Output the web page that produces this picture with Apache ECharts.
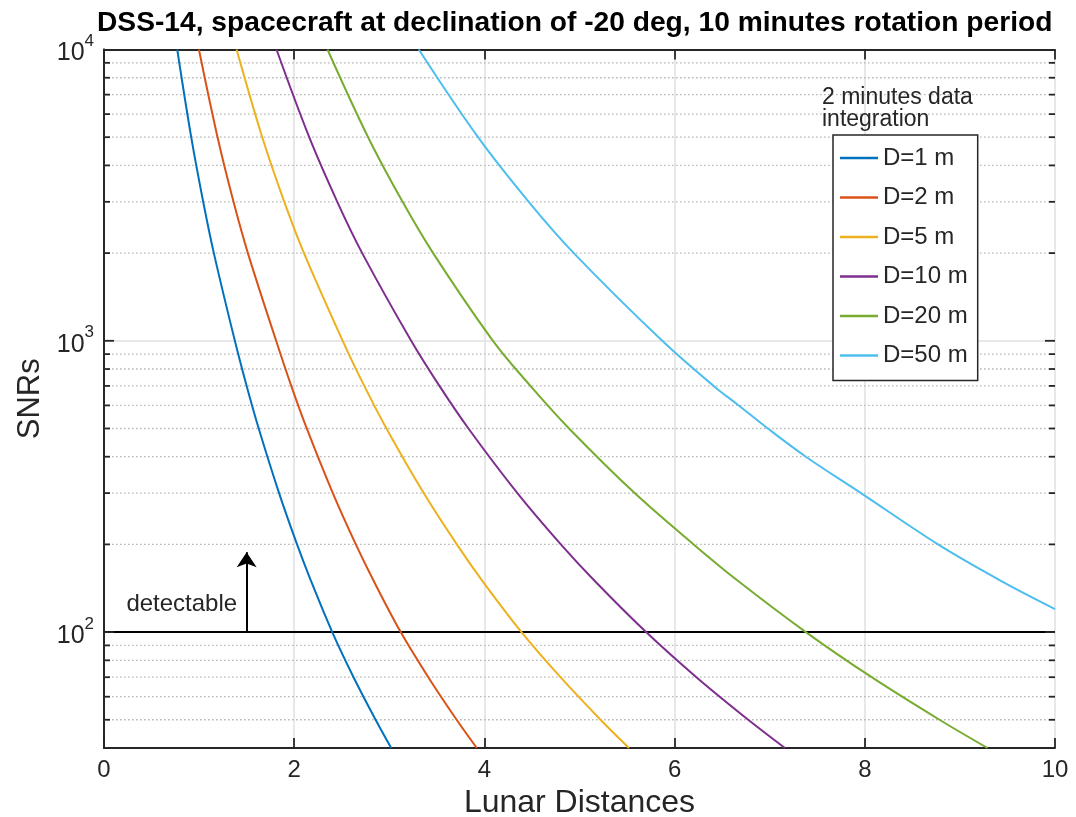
<!DOCTYPE html>
<html>
<head>
<meta charset="utf-8">
<script src="https://cdn.jsdelivr.net/npm/echarts@6/dist/echarts.min.js"></script>
<style>
html,body{margin:0;padding:0;background:#fff;}
#chart{width:1076px;height:817px;}
</style>
</head>
<body>
<div id="chart"></div>
<script>
// ---- data ----
const seriesNames = ['D=1 m', 'D=2 m', 'D=5 m', 'D=10 m', 'D=20 m', 'D=50 m'];
const seriesColors = ['#0072BD', '#D95319', '#EDB120', '#7E2F8E', '#77AC30', '#4DBEEE'];

// [lunar distance, SNR]
const curveD1 = [[0.77,10000],[0.917,5000],[1.043,3000],[1.155,2000],[1.376,1000],[1.500,700],[1.627,500],[1.841,300],[2.030,200],[2.176,150],[2.40,100],[2.624,70],[2.856,50],[3.02,40]];
const curveD2 = [[0.998,10000],[1.194,5000],[1.362,3000],[1.513,2000],[1.81,1000],[1.969,700],[2.132,500],[2.406,300],[2.648,200],[2.835,150],[3.12,100],[3.41,70],[3.708,50],[3.92,40]];
const curveD5 = [[1.394,10000],[1.664,5000],[1.896,3000],[2.103,2000],[2.51,1000],[2.737,700],[2.97,500],[3.362,300],[3.71,200],[3.978,150],[4.39,100],[4.80,70],[5.221,50],[5.52,40]];
const curveD10 = [[1.814,10000],[2.158,5000],[2.453,3000],[2.715,2000],[3.23,1000],[3.527,700],[3.832,500],[4.347,300],[4.804,200],[5.158,150],[5.70,100],[6.229,70],[6.774,50],[7.16,40]];
const curveD20 = [[2.35,10000],[2.777,5000],[3.14,3000],[3.461,2000],[4.09,1000],[4.484,700],[4.89,500],[5.58,300],[6.20,200],[6.665,150],[7.38,100],[8.072,70],[8.785,50],[9.29,40]];
const curveD50 = [[3.31,10000],[3.933,5000],[4.466,3000],[4.94,2000],[5.87,1000],[6.41,700],[6.674,600],[6.98,500],[7.38,400],[7.96,300],[8.77,200],[9.431,150],[10,120]];
const curves = [curveD1, curveD2, curveD5, curveD10, curveD20, curveD50];

const xTicks = [0, 2, 4, 6, 8, 10];
const yMin = 40, yMax = 10000;
const majorTickValues = [100, 1000];
const minorGridValues = [50,60,70,80,90,200,300,400,500,600,700,800,900,2000,3000,4000,5000,6000,7000,8000,9000];

const thresholdValue = 100;
const thresholdLine = [[0, 100], [10, 100]];
const arrowX = 1.5, arrowTop = 188;
const detectLabel = 'detectable';
const detectLabelAt = [1.40, 124];

const titleText = 'DSS-14, spacecraft at declination of -20 deg, 10 minutes rotation period';
const legendTitle = '2 minutes data\nintegration';
const xName = 'Lunar Distances';
const yName = 'SNRs';

// ---- chart ----
const FONT = '"Liberation Sans", Arial, Helvetica, sans-serif';
const INK = '#262626';
const chart = echarts.init(document.getElementById('chart'));

const axisLineStyle = { show: true, lineStyle: { color: INK, width: 1.8 } };

const lineSeries = curves.map((c, i) => ({
  name: seriesNames[i],
  type: 'line',
  data: c,
  showSymbol: false,
  smooth: 0.35,
  clip: true,
  z: 4,
  lineStyle: { color: seriesColors[i], width: 2 },
  itemStyle: { color: seriesColors[i] }
}));

function tickRenderer(tickLen, withGrid) {
  return (params, api) => {
    const y = api.coord([0, api.value(1)])[1];
    const cs = params.coordSys;
    const x0 = cs.x, x1 = cs.x + cs.width;
    const children = [];
    if (withGrid) {
      children.push({ type: 'line', shape: { x1: x0, y1: y, x2: x1, y2: y },
        style: { stroke: '#b8b8b8', lineWidth: 1.3, lineDash: [1.6, 2.4] } });
    }
    children.push({ type: 'line', shape: { x1: x0, y1: y, x2: x0 + tickLen, y2: y },
      style: { stroke: INK, lineWidth: 1.8 } });
    children.push({ type: 'line', shape: { x1: x1 - tickLen, y1: y, x2: x1, y2: y },
      style: { stroke: INK, lineWidth: 1.8 } });
    return { type: 'group', children };
  };
}

const option = {
  animation: false,
  backgroundColor: '#fff',
  textStyle: { fontFamily: FONT },
  title: [
    { text: titleText, left: 97, top: 9, padding: 0,
      textStyle: { fontFamily: FONT, fontSize: 28.2, fontWeight: 'bold', color: '#000' } },
    { text: legendTitle, left: 822, top: 87, padding: 0,
      textStyle: { fontFamily: FONT, fontSize: 23, fontWeight: 'normal', color: INK, lineHeight: 22 } }
  ],
  legend: {
    data: seriesNames,
    orient: 'vertical',
    left: 833, top: 135,
    padding: [11, 10, 13, 7],
    itemGap: 15.5,
    itemWidth: 38, itemHeight: 2.4,
    icon: 'rect',
    backgroundColor: '#fff',
    borderColor: INK, borderWidth: 1.5,
    textStyle: { fontFamily: FONT, fontSize: 24, color: INK, lineHeight: 24 }
  },
  grid: { left: 104, right: 21, top: 49.5, bottom: 69, containLabel: false, outerBoundsMode: 'none' },
  xAxis: [
    { type: 'value', min: 0, max: 10, interval: 2, position: 'bottom',
      name: xName, nameLocation: 'middle', nameGap: 35,
      nameTextStyle: { fontFamily: FONT, fontSize: 32, color: INK },
      axisLine: axisLineStyle,
      axisTick: { show: true, inside: true, length: 10, lineStyle: { color: INK, width: 1.8 } },
      axisLabel: { fontFamily: FONT, fontSize: 24, color: INK, margin: 10,
        formatter: v => (xTicks.indexOf(v) >= 0 ? String(v) : '') },
      splitLine: { show: true, lineStyle: { color: '#e0e0e0', width: 1.5 } } },
    { type: 'value', min: 0, max: 10, interval: 2, position: 'top',
      axisLine: axisLineStyle,
      axisTick: { show: true, inside: true, length: 10, lineStyle: { color: INK, width: 1.8 } },
      axisLabel: { show: false }, splitLine: { show: false } }
  ],
  yAxis: [
    { type: 'log', logBase: 10, min: yMin, max: yMax, position: 'left',
      name: yName, nameLocation: 'middle', nameGap: 57,
      nameTextStyle: { fontFamily: FONT, fontSize: 31, color: INK },
      axisLine: axisLineStyle,
      axisTick: { show: false },
      axisLabel: {
        margin: 10,
        formatter: v => {
          const l = Math.log10(v), e = Math.round(l);
          if (Math.abs(l - e) > 1e-6) return '';
          return '{b|10}{s|' + e + '}';
        },
        rich: {
          b: { fontFamily: FONT, fontSize: 25, color: INK, padding: [8, 0, 0, 0] },
          s: { fontFamily: FONT, fontSize: 17, color: INK, verticalAlign: 'top' }
        }
      },
      splitLine: { show: true, lineStyle: { color: '#e0e0e0', width: 1.5 } } },
    { type: 'log', logBase: 10, min: yMin, max: yMax, position: 'right',
      axisLine: axisLineStyle,
      axisTick: { show: false },
      axisLabel: { show: false }, splitLine: { show: false } }
  ],
  series: [
    {
      type: 'custom', name: 'minor-grid', silent: true, z: 1,
      data: minorGridValues.map(v => [0, v]),
      renderItem: tickRenderer(6, true)
    },
    {
      type: 'custom', name: 'major-ticks', silent: true, z: 5,
      data: majorTickValues.map(v => [0, v]),
      renderItem: tickRenderer(10, false)
    },
    {
      type: 'line',
      name: 'threshold',
      data: thresholdLine,
      showSymbol: false,
      z: 3,
      lineStyle: { color: '#000', width: 2 },
      itemStyle: { color: '#000' },
      markLine: {
        silent: true,
        symbol: ['none', 'arrow'],
        symbolSize: 15,
        lineStyle: { color: '#000', width: 2, type: 'solid' },
        label: { show: false },
        data: [[{ coord: [arrowX, thresholdValue] }, { coord: [arrowX, arrowTop] }]]
      },
      markPoint: {
        silent: true,
        symbol: 'rect',
        symbolSize: 0,
        label: { show: true, position: 'left', distance: 0, formatter: detectLabel,
          fontFamily: FONT, fontSize: 24, color: INK },
        data: [{ coord: detectLabelAt }]
      }
    }
  ].concat(lineSeries)
};
chart.setOption(option);
</script>
</body>
</html>
